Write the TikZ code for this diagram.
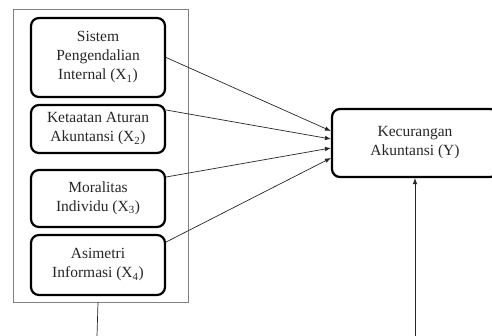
\documentclass[tikz,border=0pt]{standalone}
\usepackage{fontspec}
\setmainfont{Liberation Serif}
\usetikzlibrary{arrows.meta}
\begin{document}
\begin{tikzpicture}[x=1pt,y=-1pt,
  varbox/.style={draw=black, line width=2.2pt, rounded corners=8pt, align=center,
    inner sep=0pt, font=\fontsize{15.5}{19}\selectfont, text=black!85},
  grpbox/.style={draw=black!50, line width=0.8pt, inner sep=0pt},
  conn/.style={draw=black!85, line width=0.7pt},
  arr/.style={conn, -{Latex[length=6pt,width=4.5pt]}}]
\useasboundingbox (0,0) rectangle (492,335);
\clip (0,0) rectangle (492,335);
\node[grpbox, minimum width=175pt, minimum height=293pt] (grp) at (100.5,155.5) {};
\node[varbox, minimum width=134pt, minimum height=79pt] (b1) at (98,57.5)
  {Sistem\\Pengendalian\\Internal (X\textsubscript{1})};
\node[varbox, minimum width=134pt, minimum height=48pt] (b2) at (98,129)
  {Ketaatan Aturan\\Akuntansi (X\textsubscript{2})};
\node[varbox, minimum width=134pt, minimum height=57pt] (b3) at (98,198.5)
  {Moralitas\\Individu (X\textsubscript{3})};
\node[varbox, minimum width=134pt, minimum height=60pt] (b4) at (98,265)
  {Asimetri\\Informasi (X\textsubscript{4})};
\node[varbox, minimum width=166pt, minimum height=68pt] (y) at (415,143)
  {Kecurangan\\Akuntansi (Y)};
\draw[arr] (b1.east) -- ([yshift=12pt]y.west);
\draw[arr] ([yshift=19pt]b2.east) -- ([yshift=4pt]y.west);
\draw[arr] ([yshift=21.5pt]b3.east) -- ([yshift=-5pt]y.west);
\draw[arr] ([yshift=23pt]b4.east) -- ([yshift=-15pt]y.west);
\coordinate (c1) at (97,336);
\coordinate (c2) at (415,336);
\draw[conn] (b1.south |- grp.south) -- (c1);
\draw[arr] (c2) -- (y.south);
\end{tikzpicture}
\end{document}
